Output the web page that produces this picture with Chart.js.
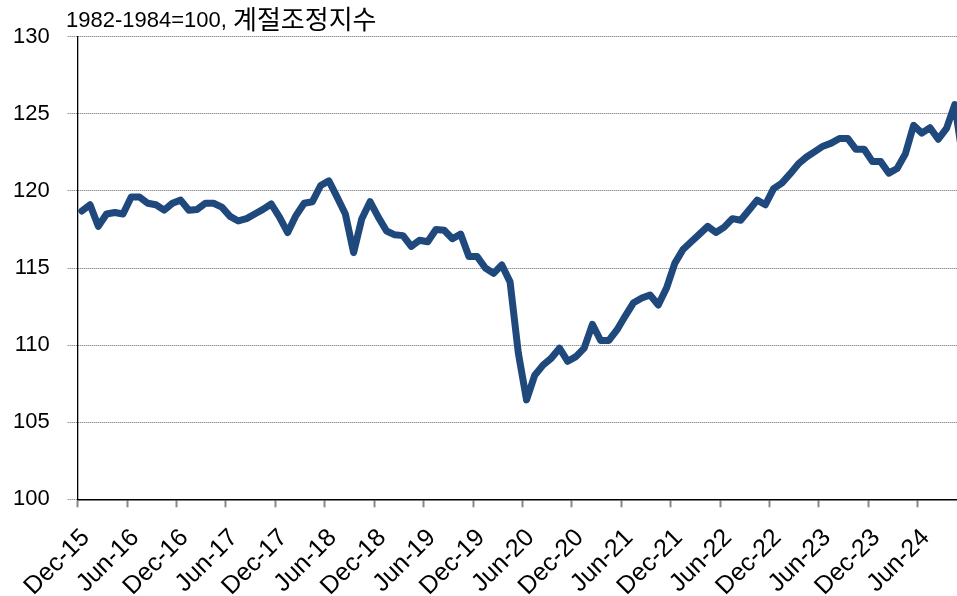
<!DOCTYPE html>
<html>
<head>
<meta charset="utf-8">
<script src="https://cdn.jsdelivr.net/npm/chart.js@4/dist/chart.umd.min.js"></script>
<style>
  html, body { margin: 0; padding: 0; background: #fff; overflow: hidden; }
  #wrap { position: relative; width: 957px; height: 596px; }
</style>
</head>
<body>
<div id="wrap"><canvas id="myChart"></canvas></div>
<script>
// monthly index, Dec-15 .. Nov-24 (last month runs off the right edge)
const indexValues = [
  118.7, 119.1, 117.7, 118.5, 118.6, 118.5, 119.6, 119.6, 119.2, 119.1, 118.75, 119.2,
  119.4, 118.75, 118.8, 119.2, 119.2, 118.95, 118.35, 118.05, 118.2, 118.5, 118.8, 119.15,
  118.3, 117.3, 118.4, 119.2, 119.3, 120.35, 120.65, 119.6, 118.5, 116.0, 118.2, 119.3,
  118.3, 117.4, 117.15, 117.1, 116.4, 116.8, 116.7, 117.5, 117.45, 116.9, 117.2, 115.75,
  115.75, 115.0, 114.65, 115.2, 114.1, 109.5, 106.45, 108.05, 108.7, 109.15, 109.8, 108.95,
  109.25, 109.8, 111.35, 110.3, 110.3, 111.0, 111.9, 112.75, 113.05, 113.25, 112.6, 113.7,
  115.3, 116.2, 116.7, 117.2, 117.7, 117.3, 117.65, 118.2, 118.1, 118.75, 119.4, 119.1,
  120.15, 120.5, 121.1, 121.75, 122.2, 122.55, 122.9, 123.1, 123.4, 123.4, 122.7, 122.7,
  121.9, 121.9, 121.15, 121.45, 122.4, 124.25, 123.75, 124.1, 123.35, 124.05, 125.6, 122.0
]

// one label every 6 months
const tickLabels = [
  'Dec-15', 'Jun-16', 'Dec-16', 'Jun-17', 'Dec-17', 'Jun-18', 'Dec-18', 'Jun-19', 'Dec-19',
  'Jun-20', 'Dec-20', 'Jun-21', 'Dec-21', 'Jun-22', 'Dec-22', 'Jun-23', 'Dec-23', 'Jun-24'
]

const yTicks = [100, 105, 110, 115, 120, 125, 130]
const unitText = '1982-1984=100, '
const unitTextKo = '계절조정지수'

const FONT = "'Liberation Sans', 'Noto Sans CJK KR', Arial, sans-serif"

// points sit in the middle of each month, ticks on month boundaries
const points = indexValues.map((v, i) => ({ x: i + 0.5, y: v }))

const unitLabel = {
  id: 'unitLabel',
  afterDraw(chart) {
    const ctx = chart.ctx
    ctx.save()
    ctx.fillStyle = '#000'
    ctx.textAlign = 'left'
    ctx.textBaseline = 'alphabetic'
    ctx.font = '22px ' + FONT
    ctx.fillText(unitText, 66, 27)
    let w = ctx.measureText(unitText).width
    ctx.font = "26px 'Noto Sans CJK KR', sans-serif"
    ctx.fillText(unitTextKo, 66 + w, 29)
    ctx.restore()
  }
}

const config = {
  type: 'line',
  data: {
    datasets: [
      {
        label: 'index',
        data: points,
        borderColor: '#1F497D',
        backgroundColor: '#1F497D',
        borderWidth: 7,
        pointRadius: 0,
        tension: 0,
        borderJoinStyle: 'round',
        borderCapStyle: 'round',
        fill: false,
      },
    ],
  },
  options: {
    responsive: true,
    maintainAspectRatio: false,
    animation: false,
    layout: { padding: { top: 36.7, right: 0, left: 0, bottom: 0 } },
    plugins: {
      legend: { display: false },
      tooltip: { enabled: false },
    },
    scales: {
      x: {
        type: 'linear',
        min: 0,
        max: 106.77,
        afterBuildTicks: (scale) => {
          scale.ticks = tickLabels.map((_, k) => ({ value: k * 6 }))
        },
        afterFit: (scale) => { scale.height = 96.7 },
        grid: {
          drawOnChartArea: false,
          drawTicks: true,
          tickLength: 8,
          tickColor: '#888',
          tickWidth: 2,
        },
        border: { display: true, color: '#000', width: 1.5 },
        ticks: {
          autoSkip: false,
          minRotation: 45,
          maxRotation: 45,
          padding: 16,
          labelOffset: 8,
          color: '#000',
          font: { family: FONT, size: 25 },
          callback: (v) => tickLabels[Math.round(v / 6)],
        },
      },
      y: {
        min: 100,
        max: 130,
        afterBuildTicks: (scale) => {
          scale.ticks = yTicks.map((v) => ({ value: v }))
        },
        afterFit: (scale) => { scale.width = 77.7 },
        grid: {
          color: (c) => (c.tick && c.tick.value === 100 ? 'rgba(0,0,0,0)' : '#666'),
          lineWidth: 1,
          drawTicks: true,
          tickLength: 10,
          tickColor: '#666',
          tickWidth: 1,
          tickBorderDash: [1, 1],
        },
        border: { display: true, color: '#000', width: 1.3, dash: [1, 1] },
        ticks: {
          padding: 18,
          color: '#000',
          font: { family: FONT, size: 22 },
        },
      },
    },
  },
  plugins: [unitLabel],
}

const chart = new Chart(document.getElementById('myChart'), config)
</script>
</body>
</html>
